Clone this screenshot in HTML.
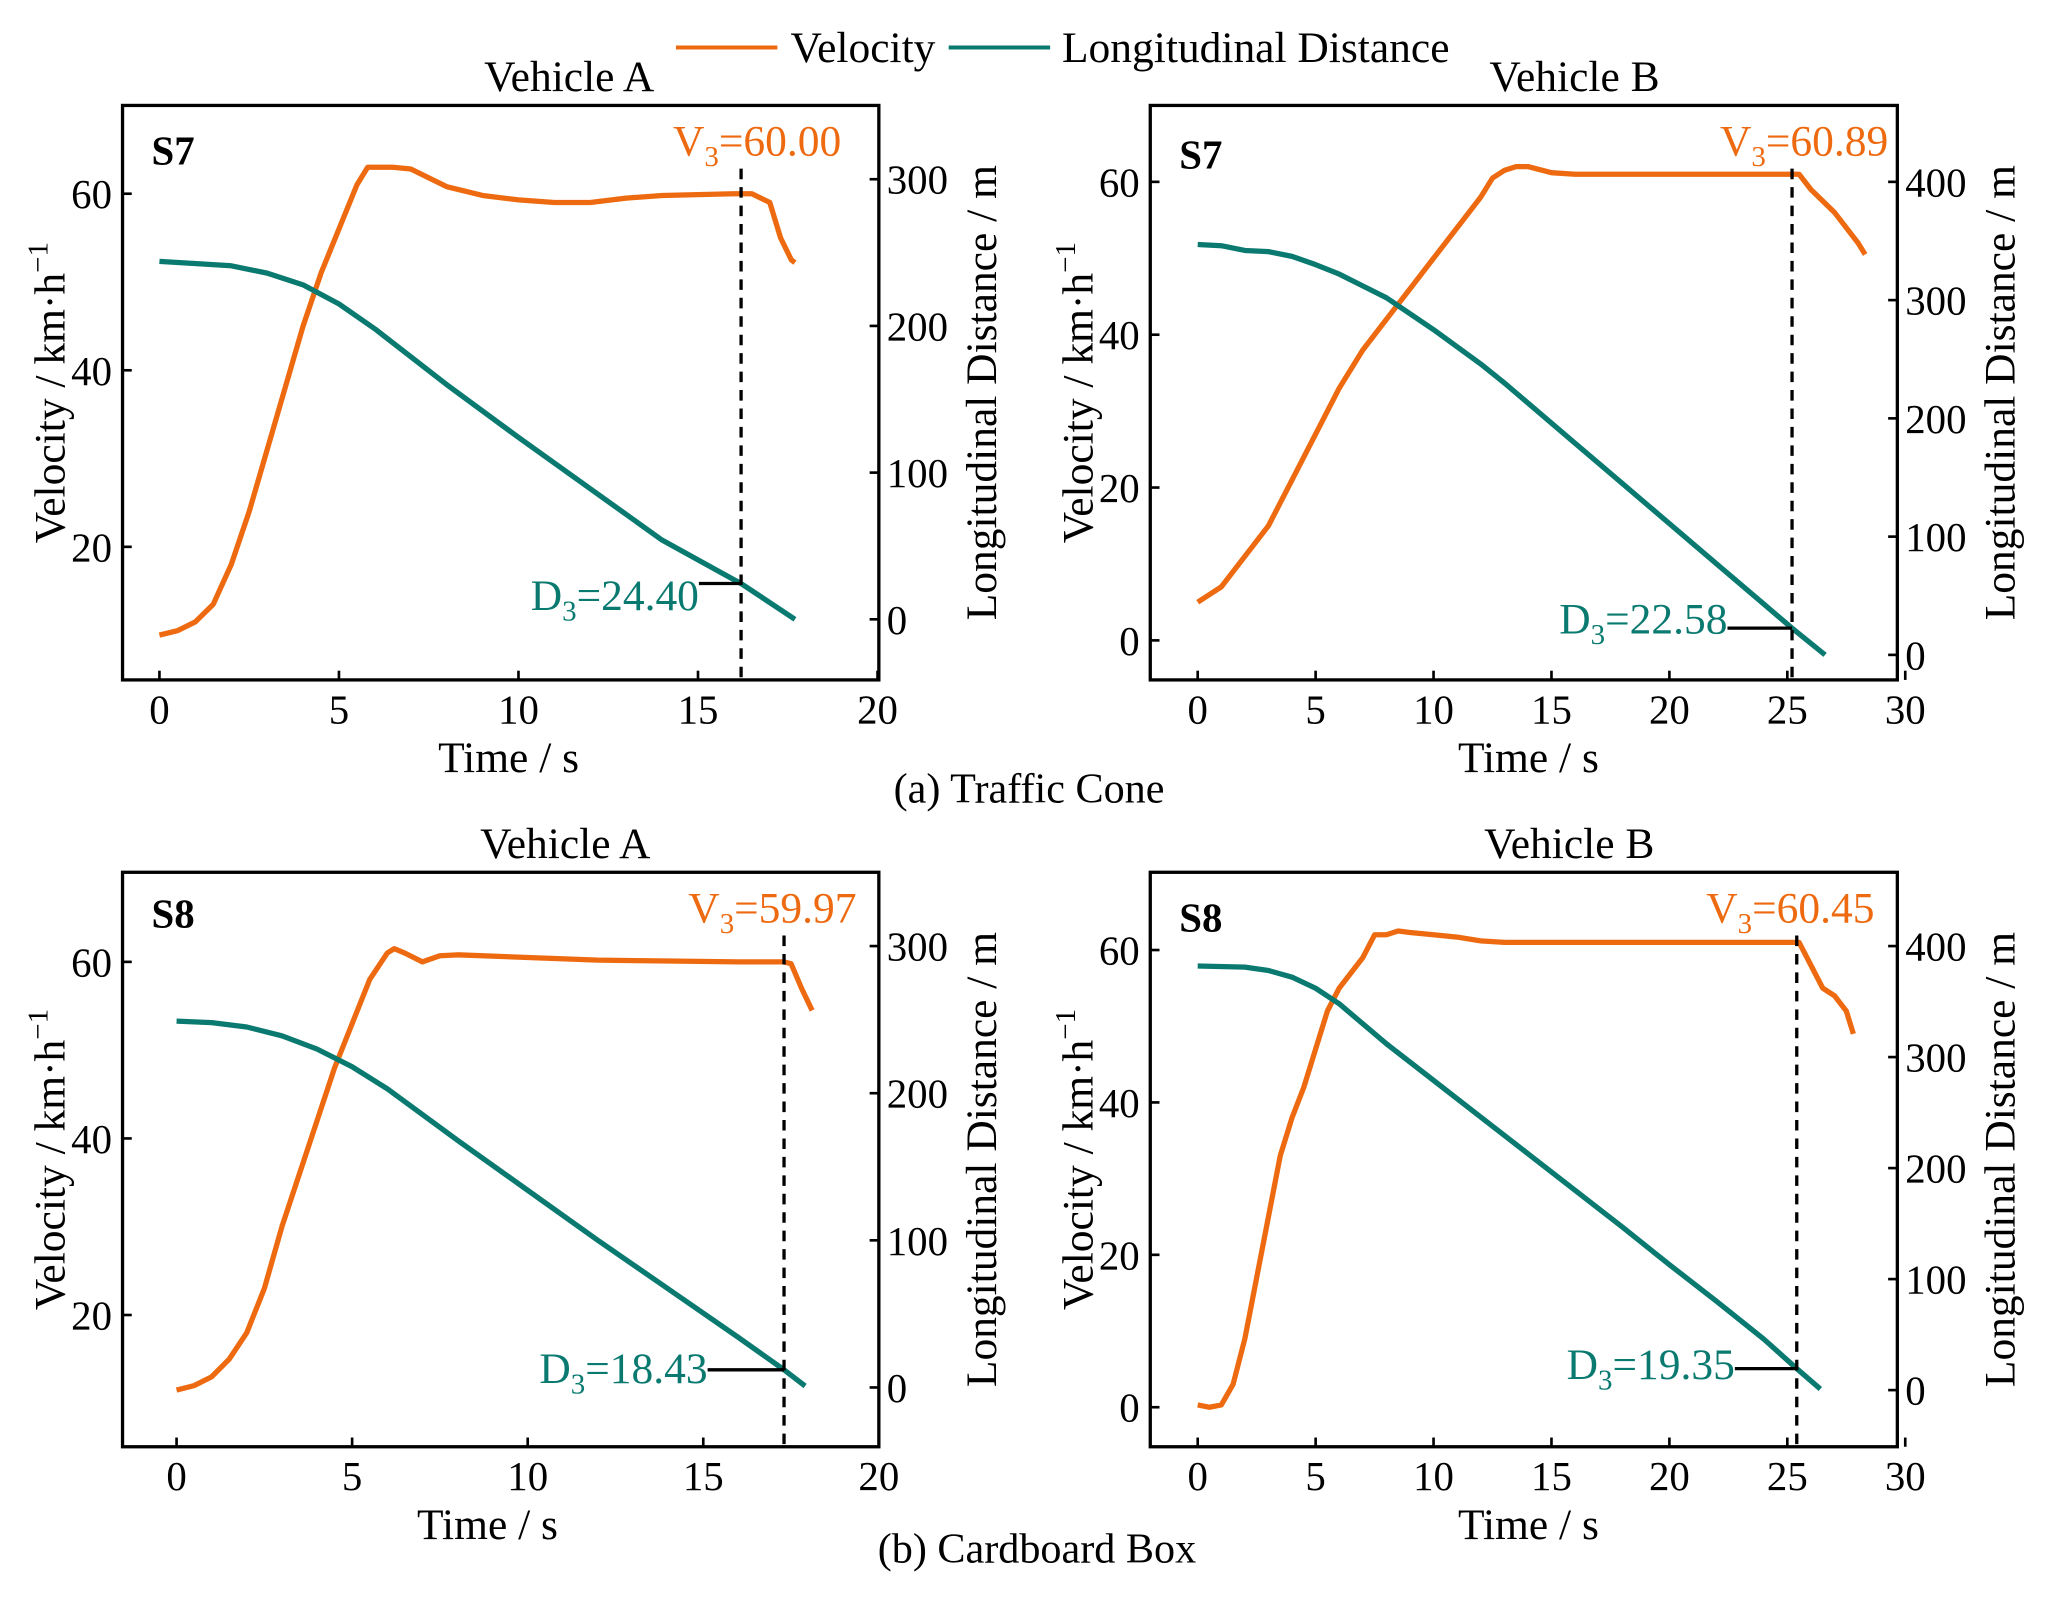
<!DOCTYPE html>
<html><head><meta charset="utf-8"><style>
html,body{margin:0;padding:0;background:#fff;}
svg{display:block;font-family:"Liberation Serif",serif;}
</style></head><body>
<svg id="chart" width="2066" height="1597" viewBox="0 0 1568 1212" xmlns="http://www.w3.org/2000/svg">
<g>
<line x1="513" y1="36" x2="590" y2="36" stroke="#ee6a10" stroke-width="3"/>
<text x="600" y="47" font-size="33">Velocity</text>
<line x1="720" y1="36" x2="797" y2="36" stroke="#0a7a70" stroke-width="3"/>
<text x="806" y="47" font-size="33">Longitudinal Distance</text>
</g>
<text x="781" y="609" font-size="32" text-anchor="middle">(a) Traffic Cone</text>
<text x="787" y="1186" font-size="32" text-anchor="middle">(b) Cardboard Box</text>
<g id="panels"></g>
</svg>
<script>
// Panel A-S7
const tA7 = [0,0.5,1,1.5,2,2.5,3,3.5,4,4.5,5,5.5,5.8,6.5,7,8,9,10,11,12,13,14,15,16,16.5,17,17.3,17.6,17.7];
const vA7 = [10,10.5,11.5,13.5,18,24,31,38,45,51,56,61,63,63,62.8,60.8,59.8,59.3,59,59,59.5,59.8,59.9,60,60,59,55,52.5,52.2];
const dtA7 = [0,2,3,4,5,6,8,10,12,14,16,16.2,17.7];
const dA7 = [244,241,236,228,215,198,160,124,89,54,27,24.4,0];
// Panel B-S7
const tB7 = [0,1,2,3,4,5,6,7,8,9,10,11,12,12.5,13,13.5,14,15,16,20,24,25,25.5,26,27,28,28.3];
const vB7 = [5,7,11,15,21,27,33,38,42,46,50,54,58,60.5,61.5,62,62,61.2,61,61,61,61,61,59,56,52,50.5];
const dtB7 = [0,1,2,3,4,5,6,7,8,10,12,13,14,16,18,20,22,24,25.2,26.6];
const dB7 = [347,346,342,341,337,330,322,312,302,275,246,230,213,179,145,111,77,43,22.6,0];
// Panel A-S8
const tA8 = [0,0.5,1,1.5,2,2.5,3,3.5,4,4.5,5,5.5,6,6.2,6.5,7,7.5,8,10,12,14,16,17.3,17.5,17.8,18.1];
const vA8 = [11.5,12,13,15,18,23,30,36,42,48,53,58,61,61.5,61,60,60.7,60.8,60.5,60.2,60.1,60,60,59.8,57,54.5];
const dtA8 = [0,1,2,3,4,5,6,8,10,12,14,16,17.3,17.9];
const dA8 = [249,248,245,239,230,218,203,168,134,100,67,34,12,1];
// Panel B-S8
const tB8 = [0,0.5,1,1.5,2,2.5,3,3.5,4,4.5,5,5.5,6,7,7.5,8,8.5,9,10,11,12,13,20,25,25.5,26,26.5,27,27.5,27.8];
const vB8 = [0.3,0,0.3,3,9,17,25,33,38,42,47,52,55,59,62,62,62.5,62.3,62,61.7,61.2,61,61,61,61,58,55,54,52,49];
const dtB8 = [0,2,3,4,5,6,8,10,12,14,16,18,20,22,24,25.4,26.4];
const dB8 = [382,381,378,372,362,348,312,279,246,213,180,147,113,80,46,19.35,1];
// tick labels
const xTicksA = [0,5,10,15,20];
const xTicksB = [0,5,10,15,20,25,30];
const vTicksA = [20,40,60];
const vTicksB = [0,20,40,60];
const dTicksA = [0,100,200,300];
const dTicksB = [0,100,200,300,400];

const OR="#ee6a10", TE="#0a7a70";
const NS="http://www.w3.org/2000/svg";
const root=document.getElementById('panels');
function mk(tag,attrs,parent){const e=document.createElementNS(NS,tag);for(const k in attrs)e.setAttribute(k,attrs[k]);(parent||root).appendChild(e);return e;}
function lin(x0,p0,x1,p1){return v=>p0+(v-x0)*(p1-p0)/(x1-x0);}

const panels=[
 {id:'a-s7',L:93,R:667,T:80,B:516,X:lin(0,121,20,666),V:lin(20,415,60,147),D:lin(0,470,300,136),
  xt:xTicksA,vt:vTicksA,dt:dTicksA,title:'Vehicle A',titleX:432,timeX:386,tag:'S7',t:tA7,v:vA7,td:dtA7,d:dA7,t3:16.2,v3:'60.00',vOff:76,d3:'24.40',d3v:24.4,lead:32,dOff:20,tagY:125},
 {id:'b-s7',L:873,R:1440,T:80,B:516,X:lin(0,909,30,1446),V:lin(0,486,60,138),D:lin(0,497,400,138),
  xt:xTicksB,vt:vTicksB,dt:dTicksB,title:'Vehicle B',titleX:1195,timeX:1160,tag:'S7',t:tB7,v:vB7,td:dtB7,d:dB7,t3:25.2,v3:'60.89',vOff:73,d3:'22.58',d3v:22.6,lead:49,dOff:4,tagY:128},
 {id:'a-s8',L:93,R:667,T:662,B:1098,X:lin(0,134,20,667),V:lin(20,998,60,730),D:lin(0,1053,300,718),
  xt:xTicksA,vt:vTicksA,dt:dTicksA,title:'Vehicle A',titleX:429,timeX:370,tag:'S8',t:tA8,v:vA8,td:dtA8,d:dA8,t3:17.3,v3:'59.97',vOff:55,d3:'18.43',d3v:12,lead:58,dOff:10,tagY:704},
 {id:'b-s8',L:873,R:1440,T:662,B:1098,X:lin(0,909,30,1446),V:lin(0,1068,60,721),D:lin(0,1055,400,718),
  xt:xTicksB,vt:vTicksB,dt:dTicksB,title:'Vehicle B',titleX:1191,timeX:1160,tag:'S8',t:tB8,v:vB8,td:dtB8,d:dB8,t3:25.4,v3:'60.45',vOff:59,d3:'19.35',d3v:19.35,lead:47,dOff:8,tagY:707}
];

panels.forEach(p=>{
 const g=mk('g',{});
 
 
 const fr=mk('rect',{x:p.L,y:p.T,width:p.R-p.L,height:p.B-p.T,fill:'none',stroke:'#000','stroke-width':2.5},g);
 
 
 const ti=mk('text',{x:p.titleX,y:p.T-11,'font-size':33,'text-anchor':'middle'},g);
 ti.textContent=p.title;
 
 
 const tg=mk('text',{x:p.L+22,y:p.tagY,'font-size':31,'font-weight':'bold'},g);
 tg.textContent=p.tag;
 
 
 p.xt.forEach(v=>{const x=p.X(v);
  const l=mk('line',{x1:x,y1:p.B,x2:x,y2:p.B-7,stroke:'#000','stroke-width':2},g);
  
  
  const t=mk('text',{x:x,y:p.B+33,'font-size':31,'text-anchor':'middle'},g);t.textContent=v;
  
  });
 p.vt.forEach(v=>{const y=p.V(v);
  const l=mk('line',{x1:p.L,y1:y,x2:p.L+7,y2:y,stroke:'#000','stroke-width':2},g);
  
  
  const t=mk('text',{x:p.L-8,y:y+11,'font-size':31,'text-anchor':'end'},g);t.textContent=v;
  
  });
 p.dt.forEach(v=>{const y=p.D(v);
  const l=mk('line',{x1:p.R,y1:y,x2:p.R-7,y2:y,stroke:'#000','stroke-width':2},g);
  
  
  const t=mk('text',{x:p.R+6,y:y+11,'font-size':31},g);t.textContent=v;
  
  });
 const xl=mk('text',{x:p.timeX,y:p.B+70,'font-size':33,'text-anchor':'middle'},g);xl.textContent='Time / s';
 
 
 const cy=(p.T+p.B)/2;
 const yl=mk('text',{x:0,y:0,'font-size':33,'text-anchor':'middle',transform:`translate(${p.L-44},${cy}) rotate(-90)`},g);
 yl.innerHTML='Velocity / km·h<tspan dy="-13" font-size="22">−1</tspan>';
 
 
 const yr=mk('text',{x:0,y:0,'font-size':33,'text-anchor':'middle',transform:`translate(${p.R+89},${cy}) rotate(-90)`},g);
 yr.textContent='Longitudinal Distance / m';
 
 
 const vp=mk('polyline',{points:p.t.map((t,i)=>p.X(t)+','+p.V(p.v[i])).join(' '),fill:'none',stroke:OR,'stroke-width':4,'stroke-linejoin':'round'},g);
 
 
 const dp=mk('polyline',{points:p.td.map((t,i)=>p.X(t)+','+p.D(p.d[i])).join(' '),fill:'none',stroke:TE,'stroke-width':4,'stroke-linejoin':'round'},g);
 
 
 const x3=p.X(p.t3);
 const vl=mk('line',{x1:x3,y1:p.T+48,x2:x3,y2:p.B,stroke:'#000','stroke-width':2.5,'stroke-dasharray':'8,6'},g);
 
 
 const v3=mk('text',{x:x3+p.vOff,y:p.T+38,'font-size':33,fill:OR,'text-anchor':'end'},g);
 v3.innerHTML='V<tspan dy="8" font-size="22">3</tspan><tspan dy="-8">='+p.v3+'</tspan>';
 
 
 const yd=p.D(p.d3v);
 const dl=mk('line',{x1:x3-p.lead,y1:yd,x2:x3,y2:yd,stroke:'#000','stroke-width':2.5},g);
 
 
 const d3=mk('text',{x:x3-p.lead,y:yd+p.dOff,'font-size':33,fill:TE,'text-anchor':'end'},g);
 d3.innerHTML='D<tspan dy="8" font-size="22">3</tspan><tspan dy="-8">='+p.d3+'</tspan>';
 
 
});
</script>
</body></html>
